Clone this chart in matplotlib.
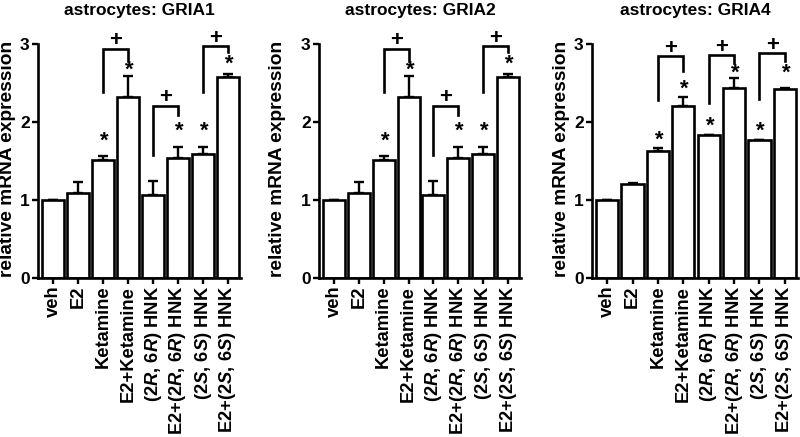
import matplotlib
matplotlib.use("Agg")
import matplotlib.pyplot as plt
import numpy as np

plt.rcParams['font.family'] = ['Liberation Sans', 'DejaVu Sans']
plt.rcParams['font.weight'] = 'bold'
plt.rcParams['mathtext.fontset'] = 'custom'
plt.rcParams['mathtext.rm'] = 'Liberation Sans'
plt.rcParams['mathtext.it'] = 'Liberation Sans:italic'
plt.rcParams['mathtext.bf'] = 'Liberation Sans:bold'

categories = ["veh", "E2", "Ketamine", "E2+Ketamine",
              r"$(2R$, $6R)$ HNK", r"E2+$(2R$, $6R)$ HNK",
              r"$(2S$, $6S)$ HNK", r"E2+$(2S$, $6S)$ HNK"]

titles = ["astrocytes: GRIA1", "astrocytes: GRIA2", "astrocytes: GRIA4"]

gria1_mean = [1.00, 1.09, 1.51, 2.32, 1.06, 1.54, 1.59, 2.58]
gria1_err = [0.00, 0.14, 0.05, 0.27, 0.18, 0.14, 0.09, 0.04]
gria2_mean = [1.00, 1.09, 1.51, 2.32, 1.06, 1.54, 1.59, 2.58]
gria2_err = [0.00, 0.14, 0.05, 0.27, 0.18, 0.14, 0.09, 0.04]
gria4_mean = [1.00, 1.21, 1.63, 2.21, 1.83, 2.43, 1.77, 2.42]
gria4_err = [0.00, 0.01, 0.04, 0.11, 0.00, 0.13, 0.00, 0.02]

# significance stars: (bar index, y)
gria1_stars = [(2, 1.75), (3, 2.66), (5, 1.88), (6, 1.88), (7, 2.74)]
gria2_stars = [(2, 1.75), (3, 2.66), (5, 1.88), (6, 1.88), (7, 2.74)]
gria4_stars = [(2, 1.77), (3, 2.42), (4, 1.94), (5, 2.63), (6, 1.88), (7, 2.63)]

# brackets: (left idx, right idx, top, left leg bottom, right leg bottom)
gria1_brackets = [(2, 3, 2.94, 2.39, 2.78), (4, 5, 2.21, 1.58, 2.09), (6, 7, 2.97, 2.39, 2.90)]
gria2_brackets = [(2, 3, 2.94, 2.39, 2.78), (4, 5, 2.21, 1.58, 2.09), (6, 7, 2.97, 2.39, 2.90)]
gria4_brackets = [(2, 3, 2.84, 2.28, 2.66), (4, 5, 2.86, 2.25, 2.76), (6, 7, 2.88, 2.29, 2.78)]

panels = [
    (gria1_mean, gria1_err, gria1_stars, gria1_brackets),
    (gria2_mean, gria2_err, gria2_stars, gria2_brackets),
    (gria4_mean, gria4_err, gria4_stars, gria4_brackets),
]

W, H = 800, 437
fig = plt.figure(figsize=(W / 100, H / 100), dpi=100)

ax_left_px = [38, 319, 592]
ax_width_px = [203, 202, 206]
ylabel_x_px = [8, 277, 561]
ax_top_px, ax_bot_px = 44, 278

for k, (mean, err, stars, brackets) in enumerate(panels):
    ax = fig.add_axes([ax_left_px[k] / W, 1 - ax_bot_px / H,
                       ax_width_px[k] / W, (ax_bot_px - ax_top_px) / H])
    x = np.arange(len(categories))
    ax.bar(x, mean, width=0.88, color='white', edgecolor='black', linewidth=1.9, zorder=2)
    ax.errorbar(x, mean, yerr=[np.zeros(len(err)), err], fmt='none', ecolor='black',
                elinewidth=1.7, capsize=3.6, capthick=1.7, zorder=1)
    ax.set_xlim(-0.6, 7.52)
    ax.set_ylim(0, 3)
    ax.set_yticks([0, 1, 2, 3])
    ax.set_yticklabels(['0', '1', '2', '3'], fontsize=12.5, fontweight='bold')
    ax.set_xticks(x)
    ax.set_xticklabels(categories, rotation=90, fontsize=13.2, fontweight='bold')
    for s in ['top', 'right']:
        ax.spines[s].set_visible(False)
    for s in ['left', 'bottom']:
        ax.spines[s].set_linewidth(1.9)
    ax.tick_params(axis='both', direction='out', length=4, width=1.7, pad=2)
    ax.tick_params(axis='x', pad=1.5)

    for (i, y) in stars:
        ax.text(i + 0.05, y, '*', ha='center', va='center', fontsize=16, fontweight='bold')
    for (i1, i2, top, lb, rb) in brackets:
        ax.plot([i1, i1, i2, i2], [lb, top, top, rb], color='black', lw=1.9,
                clip_on=False, solid_joinstyle='miter')
        ax.text((i1 + i2) / 2, top + 0.1, '+', ha='center', va='center',
                fontsize=16, fontweight='bold')

    fig.text((ax_left_px[k] + ax_width_px[k] / 2) / W, 1 - 10 / H, titles[k],
             ha='center', va='center', fontsize=12.5, fontweight='bold')
    fig.text(ylabel_x_px[k] / W, 1 - 159 / H, 'relative mRNA expression', rotation=90,
             ha='center', va='center', fontsize=13.8, fontweight='bold')

fig.savefig('out.png', dpi=100)
